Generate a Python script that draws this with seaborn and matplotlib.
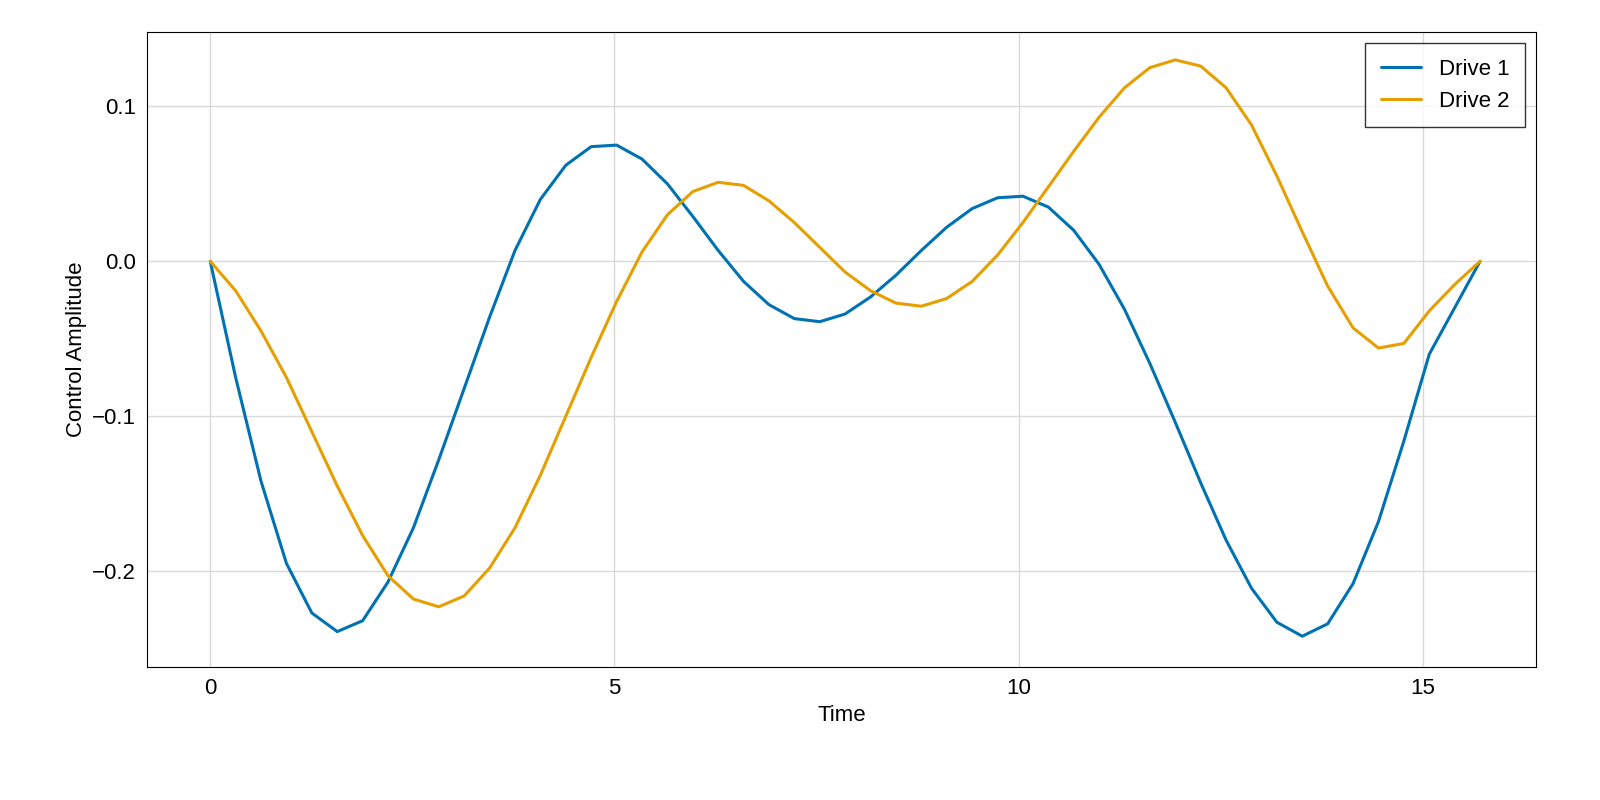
import numpy as np
import pandas as pd
import matplotlib
matplotlib.use("Agg")
import matplotlib.pyplot as plt
import seaborn as sns

time = np.linspace(0, 5 * np.pi, 51)
drive1 = [0, -0.075, -0.142, -0.195, -0.227, -0.239, -0.232, -0.207, -0.172, -0.128,
          -0.082, -0.036, 0.007, 0.040, 0.062, 0.074, 0.075, 0.066, 0.050, 0.029,
          0.007, -0.013, -0.028, -0.037, -0.039, -0.034, -0.023, -0.009, 0.007, 0.022,
          0.034, 0.041, 0.042, 0.035, 0.020, -0.002, -0.031, -0.066, -0.104, -0.143,
          -0.180, -0.211, -0.233, -0.242, -0.234, -0.208, -0.168, -0.116, -0.060, -0.030, 0.0]
drive2 = [0, -0.019, -0.045, -0.075, -0.110, -0.145, -0.177, -0.203, -0.218, -0.223,
          -0.216, -0.198, -0.172, -0.138, -0.100, -0.062, -0.026, 0.006, 0.030, 0.045,
          0.051, 0.049, 0.039, 0.025, 0.009, -0.007, -0.019, -0.027, -0.029, -0.024,
          -0.013, 0.004, 0.025, 0.048, 0.071, 0.093, 0.112, 0.125, 0.130, 0.126,
          0.112, 0.088, 0.055, 0.019, -0.016, -0.043, -0.056, -0.053, -0.032, -0.015, 0.0]

df = pd.DataFrame({"Time": np.concatenate([time, time]),
                   "Amp": drive1 + drive2,
                   "Series": ["Drive 1"] * 51 + ["Drive 2"] * 51})

sns.set_style("white")
plt.rcParams['font.family'] = ['Liberation Sans', 'DejaVu Sans']
plt.rcParams['text.color'] = 'black'
plt.rcParams['axes.labelcolor'] = 'black'
plt.rcParams['xtick.color'] = 'black'
plt.rcParams['ytick.color'] = 'black'
fig, ax = plt.subplots(figsize=(16, 8), dpi=100)
sns.lineplot(data=df, x="Time", y="Amp", hue="Series",
             palette=["#0072B2", "#E69F00"], linewidth=2.2, ax=ax)
ax.set_xticks([0, 5, 10, 15])
ax.set_yticks([-0.2, -0.1, 0.0, 0.1])
ax.set_yticklabels(["\u22120.2", "\u22120.1", "0.0", "0.1"])
ax.grid(True, color="#d9d9d9", linewidth=1)
ax.set_ylim(-0.262, 0.148)
ax.set_xlim(-0.78, 16.4)
ax.set_xlabel("Time", fontsize=16)
ax.set_ylabel("Control Amplitude", fontsize=16)
ax.tick_params(labelsize=16, length=0, pad=8)
for s in ax.spines.values():
    s.set_color("black")
leg = ax.legend(title=None, fontsize=16, loc="upper right", fancybox=False,
                edgecolor="black", borderpad=0.7, handlelength=1.8)
leg.get_frame().set_linewidth(1)
plt.subplots_adjust(left=0.092, right=0.96, top=0.96, bottom=0.166)
fig.savefig("out.png")
